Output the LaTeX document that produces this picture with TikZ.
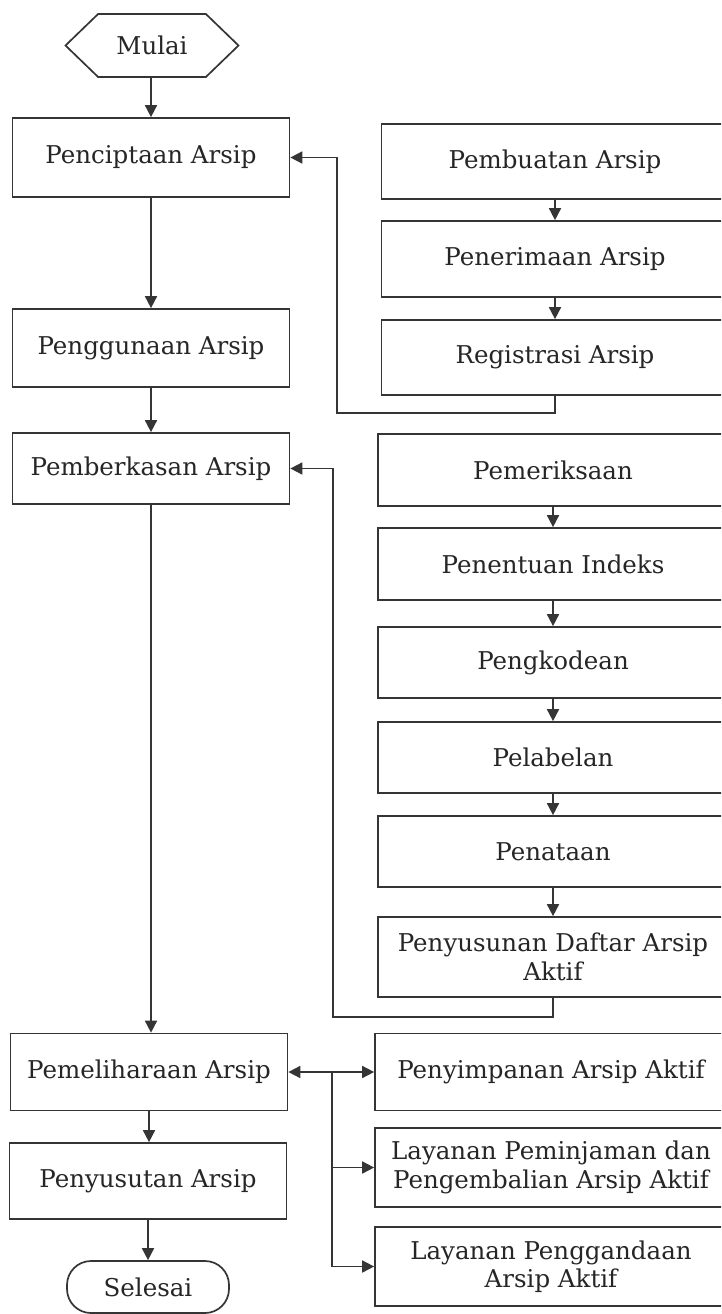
\documentclass[tikz,border=0pt]{standalone}
\usepackage{fontspec}
\setmainfont{DejaVu Serif}
\usetikzlibrary{arrows.meta,shapes.symbols}
\definecolor{linec}{HTML}{353535}
\definecolor{txtc}{HTML}{262626}
\begin{document}
\begin{tikzpicture}[x=1pt,y=-1pt,
  every node/.style={text=txtc,font=\fontsize{24.5}{28.5}\selectfont,align=center,inner sep=0pt},
  box/.style={draw=linec,line width=1.7pt,rectangle},
  lbox/.style={box,minimum width=277pt},
  rbox/.style={box,minimum width=347pt},
  mbox/.style={box,minimum width=350pt},
  bbox/.style={box,minimum width=352pt},
  arr/.style={draw=linec,line width=1.7pt,-{Triangle[length=12pt,width=12pt]}},
  arrb/.style={draw=linec,line width=1.7pt,{Triangle[length=12pt,width=12pt]}-{Triangle[length=12pt,width=12pt]}}]
\useasboundingbox (0,0) rectangle (721,1314);
\clip (0,0) rectangle (721,1314);
\fill[white] (0,0) rectangle (721,1314);

% main column
\node[draw=linec,line width=1.7pt,signal,signal to=west and east,signal pointer angle=88,
      minimum width=173pt,minimum height=63pt] (mulai) at (152,45.5) {Mulai};
\node[lbox,minimum height=79pt] (cipta) at (151,157.5) {Penciptaan Arsip};
\node[lbox,minimum height=78pt] (guna) at (151,348) {Penggunaan Arsip};
\node[lbox,minimum height=71pt] (berkas) at (151,468.5) {Pemberkasan Arsip};
\node[lbox,minimum height=77pt] (pelihara) at (149,1072) {Pemeliharaan Arsip};
\node[lbox,minimum height=76pt] (susut) at (148,1181) {Penyusutan Arsip};
\node[draw=linec,line width=1.7pt,rounded corners=24pt,minimum width=162pt,minimum height=52pt]
      (selesai) at (148,1287) {Selesai};

% creation steps
\node[rbox,minimum height=75pt] (buat) at (555,161.5) {Pembuatan Arsip};
\node[rbox,minimum height=76pt] (terima) at (555,259) {Penerimaan Arsip};
\node[rbox,minimum height=75pt] (regis) at (555,357.5) {Registrasi Arsip};

% filing steps
\node[mbox,minimum height=72pt] (periksa) at (553,470) {Pemeriksaan};
\node[mbox,minimum height=72pt] (indeks) at (553,564) {Penentuan Indeks};
\node[mbox,minimum height=71pt] (kode) at (553,662.5) {Pengkodean};
\node[mbox,minimum height=71pt] (label) at (553,757.5) {Pelabelan};
\node[mbox,minimum height=71pt] (tata) at (553,851.5) {Penataan};
\node[mbox,minimum height=80pt] (daftar) at (553,957) {Penyusunan Daftar Arsip\\Aktif};

% maintenance steps
\node[bbox,minimum height=77pt] (simpan) at (551,1072) {Penyimpanan Arsip Aktif};
\node[bbox,minimum height=79pt] (pinjam) at (551,1167.5) {Layanan Peminjaman dan\\Pengembalian Arsip Aktif};
\node[bbox,minimum height=79pt] (ganda) at (551,1266.5) {Layanan Penggandaan\\Arsip Aktif};

% main flow
\draw[arr] (mulai.south -| cipta.north) -- (cipta.north);
\draw[arr] (cipta) -- (guna);
\draw[arr] (guna) -- (berkas);
\draw[arr] (berkas.south) -- (berkas.south |- pelihara.north);
\draw[arr] (pelihara.south) -- (pelihara.south |- susut.north);
\draw[arr] (susut.south) -- (susut.south |- selesai.north);

% creation chain and return
\draw[arr] (buat) -- (terima);
\draw[arr] (terima) -- (regis);
\coordinate (r1) at (337,413);
\draw[arr] (regis.south) |- (r1) |- (cipta.east);

% filing chain and return
\draw[arr] (periksa) -- (indeks);
\draw[arr] (indeks) -- (kode);
\draw[arr] (kode) -- (label);
\draw[arr] (label) -- (tata);
\draw[arr] (tata) -- (daftar);
\coordinate (r2) at (333,1017);
\draw[arr] (daftar.south) |- (r2) |- (berkas.east);

% maintenance branches
\draw[arrb] (pelihara.east) -- (simpan.west);
\coordinate (b1) at (332,1072);
\draw[arr] (b1) |- (pinjam.west);
\draw[arr] (b1) |- (ganda.west);
\end{tikzpicture}
\end{document}
